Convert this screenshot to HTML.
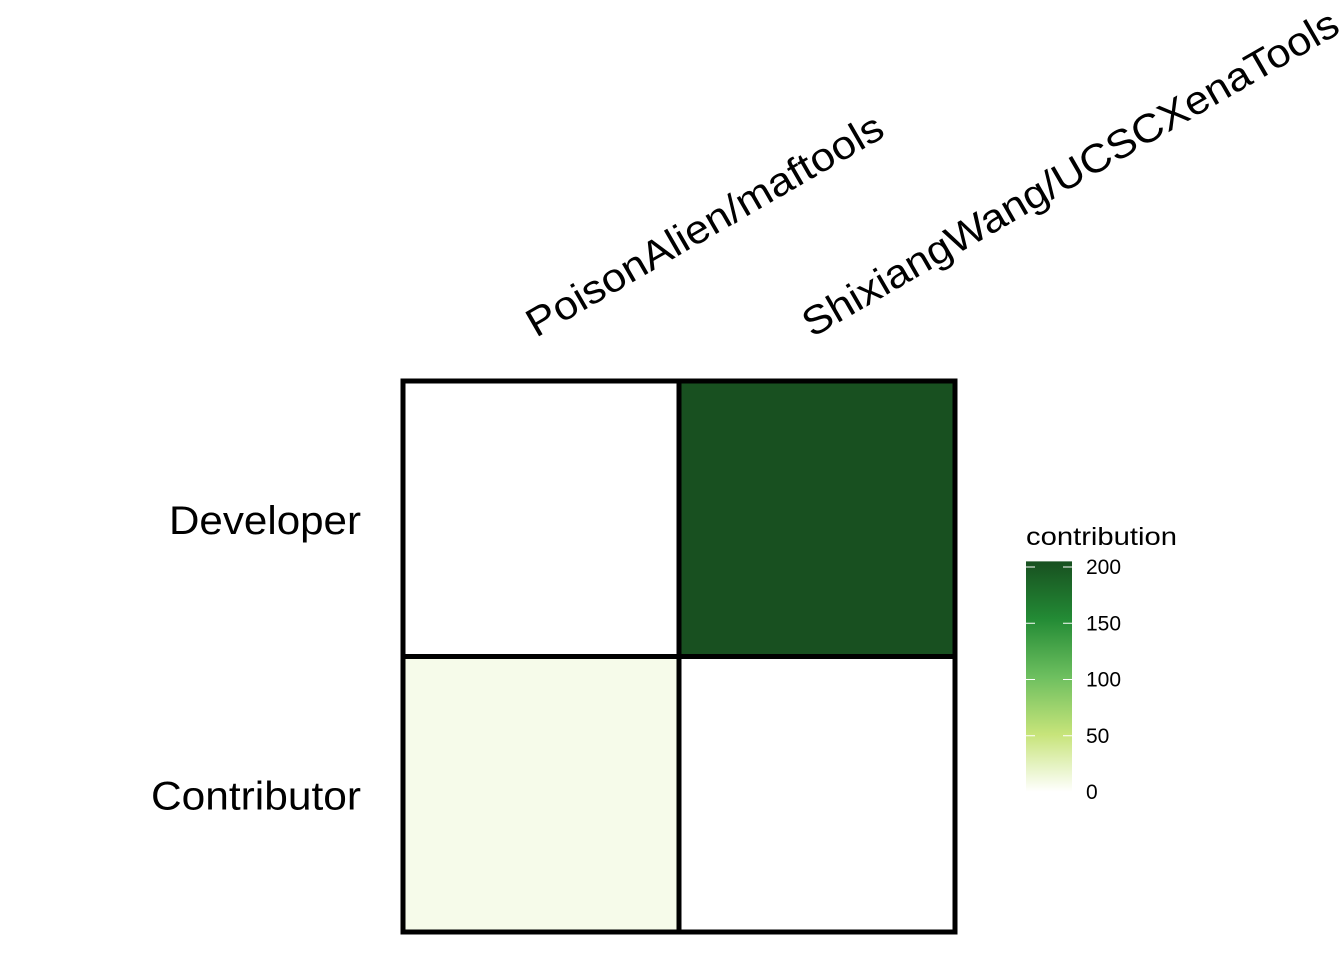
<!DOCTYPE html>
<html><head><meta charset="utf-8"><style>
body{margin:0;background:#fff}
svg{display:block;font-family:"Liberation Sans",Arial,sans-serif}
</style></head><body>
<svg id="chart" width="1344" height="960">
<defs><linearGradient id="lg" x1="0" y1="1" x2="0" y2="0">
<stop offset="0" stop-color="#ffffff"/><stop offset="0.25" stop-color="#c7e47a"/><stop offset="0.5" stop-color="#6dbf5f"/><stop offset="0.75" stop-color="#238b35"/><stop offset="1" stop-color="#185020"/>
</linearGradient></defs>
<g id="cells"></g>
<g id="labels"></g>
<g id="legend"></g>
</svg>
<script>
const cols=["PoisonAlien/maftools","ShixiangWang/UCSCXenaTools"];
const rows=["Developer","Contributor"];
const values=[[0,200],[8,0]];
const legendTicks=[0,50,100,150,200];
const NS="http://www.w3.org/2000/svg";
const svg=document.getElementById('chart');
const X0=403,X1=955,Y0=381,Y1=932;
const cw=(X1-X0)/cols.length, rh=(Y1-Y0)/rows.length;
const stops=[[0,[255,255,255]],[50,[199,228,122]],[100,[109,191,95]],[150,[35,139,53]],[200,[24,80,32]]];
function color(v){
  for(let i=1;i<stops.length;i++){ if(v<=stops[i][0]){const a=stops[i-1],b=stops[i];const t=(v-a[0])/(b[0]-a[0]);
    const c=a[1].map((x,k)=>Math.round(x+(b[1][k]-x)*t));return `rgb(${c})`;}}
  return 'rgb(24,80,32)';
}
function el(tag,attrs,parent){const e=document.createElementNS(NS,tag);for(const k in attrs)e.setAttribute(k,attrs[k]);parent.appendChild(e);return e;}
const gc=document.getElementById('cells');
rows.forEach((r,i)=>cols.forEach((c,j)=>{
  const e=el('rect',{x:X0+j*cw,y:Y0+i*rh,width:cw,height:rh,fill:color(values[i][j]),stroke:'#000','stroke-width':5},gc);
  
  
}));
const gl=document.getElementById('labels');
const lens=[405,612];
cols.forEach((c,j)=>{
  const x=X0+j*cw+133, y=338;
  const t=el('text',{x:x,y:y,'font-size':40,transform:`rotate(-30 ${x} ${y})`,textLength:lens[j],lengthAdjust:'spacingAndGlyphs'},gl);
  t.textContent=c;
  
  
});
rows.forEach((r,i)=>{
  const t=el('text',{x:361,y:Y0+i*rh+rh/2+15,'font-size':40,'text-anchor':'end',textLength:r==='Developer'?192:210,lengthAdjust:'spacingAndGlyphs'},gl);
  t.textContent=r;
  
  
});
const lg=document.getElementById('legend');
const ly=v=>792-v*1.125;
const tt=el('text',{x:1026,y:545,'font-size':25,textLength:151,lengthAdjust:'spacingAndGlyphs'},lg);tt.textContent='contribution';


const bar=el('rect',{x:1026,y:ly(205),width:46,height:ly(0)-ly(205),fill:'url(#lg)'},lg);


legendTicks.forEach(v=>{
  if(v>0&&v<205){el('line',{x1:1026,x2:1035,y1:ly(v),y2:ly(v),stroke:'#fff','stroke-width':1},lg);
  el('line',{x1:1063,x2:1072,y1:ly(v),y2:ly(v),stroke:'#fff','stroke-width':1},lg);}
  const t=el('text',{x:1086,y:ly(v)+7,'font-size':21},lg);t.textContent=v;
  
  
});
</script>
</body></html>
